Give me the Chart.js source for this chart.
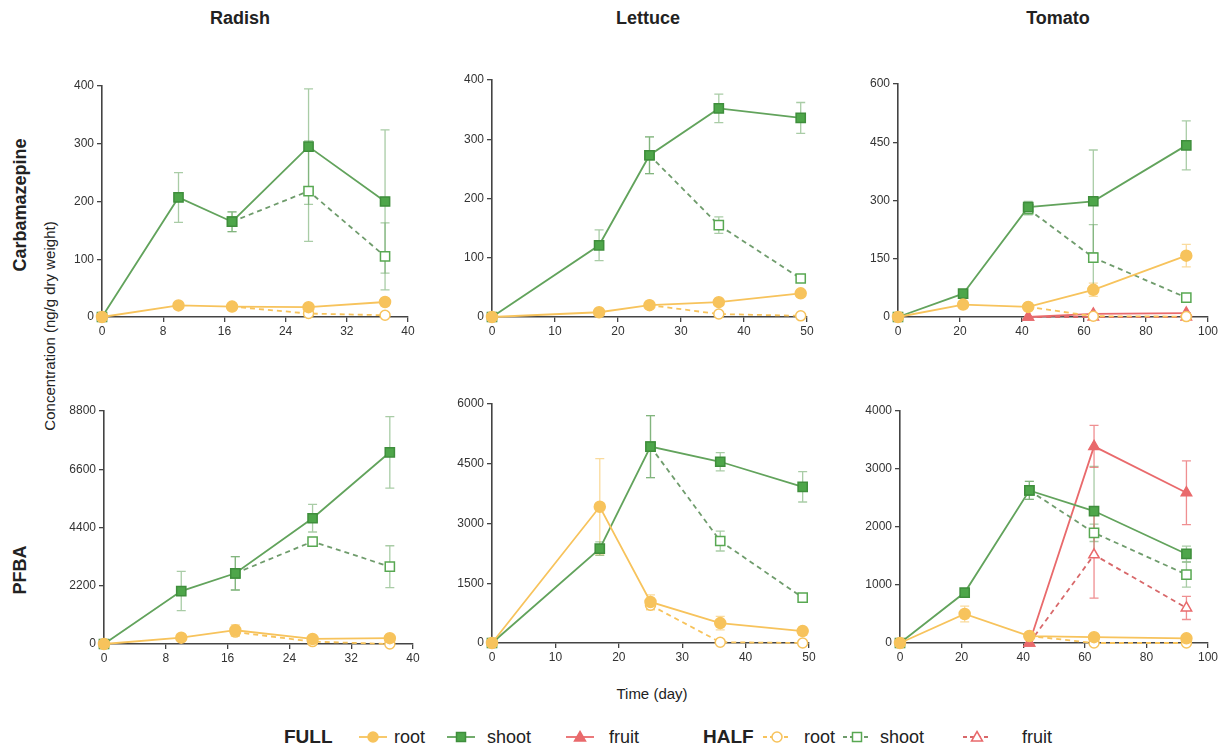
<!DOCTYPE html>
<html>
<head>
<meta charset="utf-8">
<script src="https://cdn.jsdelivr.net/npm/chart.js@4.4.1/dist/chart.umd.min.js"></script>
<style>
  body { margin: 0; width: 1225px; height: 751px; background: #fff; position: relative; overflow: hidden;
         font-family: "Liberation Sans", Arial, sans-serif; color: #222; }
  canvas { position: absolute; }
  .lbl { position: absolute; white-space: nowrap; transform: translate(-50%, -50%); }
  .bold { font-weight: bold; font-size: 18px; }
  .rot { transform: translate(-50%, -50%) rotate(-90deg); }
  .legend { position: absolute; top: 725px; left: 0; height: 24px; width: 1225px; }
  .legend span, .legend svg { position: absolute; top: 0; }
  .legend span { font-size: 18px; line-height: 24px; }
  .legend .head { font-weight: bold; font-size: 19px; }
</style>
</head>
<body>

<div class="lbl bold" style="left:240px; top:18px;">Radish</div>
<div class="lbl bold" style="left:648px; top:18px;">Lettuce</div>
<div class="lbl bold" style="left:1058px; top:18px;">Tomato</div>
<div class="lbl bold rot" style="left:20px; top:205px;">Carbamazepine</div>
<div class="lbl bold rot" style="left:20px; top:570px;">PFBA</div>
<div class="lbl rot" style="left:49px; top:326px; font-size:15px;">Concentration (ng/g dry weight)</div>
<div class="lbl" style="left:652px; top:693px; font-size:15px;">Time (day)</div>

<canvas id="c1"></canvas>
<canvas id="c2"></canvas>
<canvas id="c3"></canvas>
<canvas id="c4"></canvas>
<canvas id="c5"></canvas>
<canvas id="c6"></canvas>

<div class="legend" id="legend"></div>

<script>
// sampling days
const radishDays = [0, 10, 17, 27, 37];
const lettuceDays = [0, 17, 25, 36, 49];
const tomatoDays = [0, 21, 42, 63, 93];

// tick labels
const radishXTicks = [0, 8, 16, 24, 32, 40];
const lettuceXTicks = [0, 10, 20, 30, 40, 50];
const tomatoXTicks = [0, 20, 40, 60, 80, 100];
const radishCbzYTicks = [0, 100, 200, 300, 400];
const lettuceCbzYTicks = [0, 100, 200, 300, 400];
const tomatoCbzYTicks = [0, 150, 300, 450, 600];
const radishPfbaYTicks = [0, 2200, 4400, 6600, 8800];
const lettucePfbaYTicks = [0, 1500, 3000, 4500, 6000];
const tomatoPfbaYTicks = [0, 1000, 2000, 3000, 4000];

// Carbamazepine - radish
const radishCbzFullRoot = [0, 20, 18, 17, 26];
const radishCbzFullRootErr = [0, 2, 3, 3, 3];
const radishCbzFullShoot = [0, 207, 165, 295, 200];
const radishCbzFullShootErr = [0, 43, 17, 100, 124];
const radishCbzHalfRoot = [null, null, 18, 6, 3];
const radishCbzHalfRootErr = [0, 0, 3, 2, 2];
const radishCbzHalfShoot = [null, null, 165, 218, 105];
const radishCbzHalfShootErr = [0, 0, 17, 87, 58];

// Carbamazepine - lettuce
const lettuceCbzFullRoot = [0, 8, 20, 25, 40];
const lettuceCbzFullRootErr = [0, 1, 2, 3, 3];
const lettuceCbzFullShoot = [0, 121, 273, 352, 336];
const lettuceCbzFullShootErr = [0, 26, 31, 24, 26];
const lettuceCbzHalfRoot = [null, null, 20, 5, 2];
const lettuceCbzHalfRootErr = [0, 0, 2, 1, 1];
const lettuceCbzHalfShoot = [null, null, 273, 155, 65];
const lettuceCbzHalfShootErr = [0, 0, 31, 14, 5];

// Carbamazepine - tomato
const tomatoCbzFullRoot = [0, 32, 26, 70, 158];
const tomatoCbzFullRootErr = [0, 3, 3, 17, 29];
const tomatoCbzFullShoot = [0, 60, 283, 298, 442];
const tomatoCbzFullShootErr = [0, 5, 15, 132, 63];
const tomatoCbzFullFruit = [null, null, 0, 8, 10];
const tomatoCbzFullFruitErr = [0, 0, 0, 1, 1];
const tomatoCbzHalfRoot = [null, null, 26, 2, 1];
const tomatoCbzHalfRootErr = [0, 0, 3, 1, 1];
const tomatoCbzHalfShoot = [null, null, 278, 153, 50];
const tomatoCbzHalfShootErr = [0, 0, 15, 85, 5];
const tomatoCbzHalfFruit = [null, null, 0, 0, 0];
const tomatoCbzHalfFruitErr = [0, 0, 0, 0, 0];

// PFBA - radish
const radishPfbaFullRoot = [0, 240, 520, 190, 220];
const radishPfbaFullRootErr = [0, 80, 200, 60, 60];
const radishPfbaFullShoot = [0, 2000, 2670, 4750, 7240];
const radishPfbaFullShootErr = [0, 740, 630, 520, 1350];
const radishPfbaHalfRoot = [null, null, 450, 90, 0];
const radishPfbaHalfRootErr = [0, 0, 150, 40, 20];
const radishPfbaHalfShoot = [null, null, 2670, 3870, 2920];
const radishPfbaHalfShootErr = [0, 0, 630, 150, 790];

// PFBA - lettuce
const lettucePfbaFullRoot = [0, 3420, 1030, 500, 300];
const lettucePfbaFullRootErr = [0, 1210, 180, 170, 100];
const lettucePfbaFullShoot = [0, 2370, 4930, 4550, 3920];
const lettucePfbaFullShootErr = [0, 170, 780, 230, 380];
const lettucePfbaHalfRoot = [null, null, 950, 20, 0];
const lettucePfbaHalfRootErr = [0, 0, 120, 20, 10];
const lettucePfbaHalfShoot = [null, null, 4930, 2560, 1140];
const lettucePfbaHalfShootErr = [0, 0, 780, 250, 80];

// PFBA - tomato
const tomatoPfbaFullRoot = [0, 500, 120, 100, 80];
const tomatoPfbaFullRootErr = [0, 135, 30, 20, 20];
const tomatoPfbaFullShoot = [0, 870, 2630, 2275, 1535];
const tomatoPfbaFullShootErr = [0, 40, 155, 770, 135];
const tomatoPfbaFullFruit = [null, null, 0, 3390, 2590];
const tomatoPfbaFullFruitErr = [0, 0, 0, 363, 550];
const tomatoPfbaHalfRoot = [null, null, 120, 0, 0];
const tomatoPfbaHalfRootErr = [0, 0, 20, 0, 0];
const tomatoPfbaHalfShoot = [null, null, 2630, 1900, 1180];
const tomatoPfbaHalfShootErr = [0, 0, 155, 150, 215];
const tomatoPfbaHalfFruit = [null, null, 0, 1520, 605];
const tomatoPfbaHalfFruitErr = [0, 0, 0, 745, 200];

const ROOT = '#f7c35c', SHOOT = '#4ea64a', FRUIT = '#e96a6c';

const styles = {
  fullRoot:   { line: ROOT, fill: ROOT, edge: ROOT, shape: 'circle', r: 5.5, dash: [], err: 'rgba(247,195,92,0.6)', order: 1 },
  fullShoot:  { line: '#62a35c', fill: SHOOT, edge: '#3f8e3c', shape: 'rect', r: 6.5, dash: [], err: 'rgba(98,163,92,0.55)', order: 3 },
  fullFruit:  { line: FRUIT, fill: FRUIT, edge: FRUIT, shape: 'triangle', r: 6, dash: [], err: 'rgba(233,106,108,0.75)', order: 5 },
  halfRoot:   { line: ROOT, fill: '#fff', edge: ROOT, shape: 'circle', r: 5, dash: [5, 4], err: 'rgba(247,195,92,0.6)', order: 2 },
  halfShoot:  { line: '#6f9c6c', fill: '#fff', edge: '#58a852', shape: 'rect', r: 6.5, dash: [5, 4], err: 'rgba(98,163,92,0.55)', order: 4 },
  halfFruit:  { line: '#d8686a', fill: '#fff', edge: FRUIT, shape: 'triangle', r: 6, dash: [5, 4], err: 'rgba(233,106,108,0.75)', order: 6 }
};

// plot-area boxes in page pixels
const boxes = {
  c1: { L: 102, R: 408, T: 86, B: 317 },
  c2: { L: 492, R: 807, T: 80, B: 317 },
  c3: { L: 898, R: 1208, T: 84, B: 317 },
  c4: { L: 104, R: 413, T: 411, B: 644 },
  c5: { L: 492, R: 809, T: 404, B: 643 },
  c6: { L: 900, R: 1208, T: 411, B: 643 }
};

const errorBars = {
  id: 'errorBars',
  beforeDatasetsDraw(chart) {
    const ctx = chart.ctx;
    const ys = chart.scales.y, xs = chart.scales.x;
    chart.data.datasets.forEach(ds => {
      ctx.save();
      ctx.strokeStyle = ds.errColor;
      ctx.lineWidth = 1.3;
      ds.data.forEach(p => {
        if (!p.e) return;
        const x = xs.getPixelForValue(p.x);
        const top = ys.getPixelForValue(p.y + p.e);
        const bot = ys.getPixelForValue(Math.max(p.y - p.e, 0));
        ctx.beginPath();
        ctx.moveTo(x, top); ctx.lineTo(x, bot);
        ctx.moveTo(x - 4.5, top); ctx.lineTo(x + 4.5, top);
        ctx.moveTo(x - 4.5, bot); ctx.lineTo(x + 4.5, bot);
        ctx.stroke();
      });
      ctx.restore();
    });
  }
};

function makePanel(id, days, xTicks, yTicks, series) {
  const b = boxes[id];
  const padL = 50, padR = 20, padT = 12, padB = 28;
  const cv = document.getElementById(id);
  cv.width = b.R - b.L + padL + padR;
  cv.height = b.B - b.T + padT + padB;
  cv.style.left = (b.L - padL) + 'px';
  cv.style.top = (b.T - padT) + 'px';

  const datasets = series.map(([kind, vals, errs]) => {
    const s = styles[kind];
    return {
      data: days.map((d, i) => ({ x: d, y: vals[i], e: errs[i] })).filter(p => p.y !== null),
      borderColor: s.line,
      borderWidth: 1.8,
      borderDash: s.dash,
      pointStyle: s.shape,
      pointRadius: s.r,
      pointBackgroundColor: s.fill,
      pointBorderColor: s.edge,
      pointBorderWidth: 1.5,
      errColor: s.err,
      order: s.order,
      clip: false,
      tension: 0
    };
  });

  const axisColor = '#444';
  const tickFont = { family: '"Liberation Sans", Arial, sans-serif', size: 12 };

  new Chart(cv, {
    type: 'line',
    data: { datasets },
    options: {
      responsive: false,
      animation: false,
      devicePixelRatio: 1,
      layout: { padding: { left: 0, right: padR, top: padT, bottom: 0 } },
      plugins: { legend: { display: false }, tooltip: { enabled: false } },
      scales: {
        x: {
          type: 'linear',
          min: xTicks[0], max: xTicks[xTicks.length - 1],
          afterBuildTicks: sc => { sc.ticks = xTicks.map(v => ({ value: v })); },
          afterFit: sc => { sc.height = padB; },
          grid: { drawOnChartArea: false, drawTicks: true, tickLength: 5, color: axisColor, lineWidth: 1.3 },
          border: { display: true, color: axisColor, width: 1.6 },
          ticks: { color: '#333', font: tickFont, padding: 2, maxRotation: 0, callback: v => String(v) }
        },
        y: {
          type: 'linear',
          min: yTicks[0], max: yTicks[yTicks.length - 1],
          afterBuildTicks: sc => { sc.ticks = yTicks.map(v => ({ value: v })); },
          afterFit: sc => { sc.width = padL; },
          grid: { drawOnChartArea: false, drawTicks: true, tickLength: 5, color: axisColor, lineWidth: 1.3 },
          border: { display: true, color: axisColor, width: 1.6 },
          ticks: { color: '#333', font: tickFont, padding: 3, callback: v => String(v) }
        }
      }
    },
    plugins: [errorBars]
  });
}

makePanel('c1', radishDays, radishXTicks, radishCbzYTicks, [
  ['fullRoot', radishCbzFullRoot, radishCbzFullRootErr],
  ['fullShoot', radishCbzFullShoot, radishCbzFullShootErr],
  ['halfRoot', radishCbzHalfRoot, radishCbzHalfRootErr],
  ['halfShoot', radishCbzHalfShoot, radishCbzHalfShootErr]
]);
makePanel('c2', lettuceDays, lettuceXTicks, lettuceCbzYTicks, [
  ['fullRoot', lettuceCbzFullRoot, lettuceCbzFullRootErr],
  ['fullShoot', lettuceCbzFullShoot, lettuceCbzFullShootErr],
  ['halfRoot', lettuceCbzHalfRoot, lettuceCbzHalfRootErr],
  ['halfShoot', lettuceCbzHalfShoot, lettuceCbzHalfShootErr]
]);
makePanel('c3', tomatoDays, tomatoXTicks, tomatoCbzYTicks, [
  ['fullRoot', tomatoCbzFullRoot, tomatoCbzFullRootErr],
  ['fullShoot', tomatoCbzFullShoot, tomatoCbzFullShootErr],
  ['fullFruit', tomatoCbzFullFruit, tomatoCbzFullFruitErr],
  ['halfRoot', tomatoCbzHalfRoot, tomatoCbzHalfRootErr],
  ['halfShoot', tomatoCbzHalfShoot, tomatoCbzHalfShootErr],
  ['halfFruit', tomatoCbzHalfFruit, tomatoCbzHalfFruitErr]
]);
makePanel('c4', radishDays, radishXTicks, radishPfbaYTicks, [
  ['fullRoot', radishPfbaFullRoot, radishPfbaFullRootErr],
  ['fullShoot', radishPfbaFullShoot, radishPfbaFullShootErr],
  ['halfRoot', radishPfbaHalfRoot, radishPfbaHalfRootErr],
  ['halfShoot', radishPfbaHalfShoot, radishPfbaHalfShootErr]
]);
makePanel('c5', lettuceDays, lettuceXTicks, lettucePfbaYTicks, [
  ['fullRoot', lettucePfbaFullRoot, lettucePfbaFullRootErr],
  ['fullShoot', lettucePfbaFullShoot, lettucePfbaFullShootErr],
  ['halfRoot', lettucePfbaHalfRoot, lettucePfbaHalfRootErr],
  ['halfShoot', lettucePfbaHalfShoot, lettucePfbaHalfShootErr]
]);
makePanel('c6', tomatoDays, tomatoXTicks, tomatoPfbaYTicks, [
  ['fullRoot', tomatoPfbaFullRoot, tomatoPfbaFullRootErr],
  ['fullShoot', tomatoPfbaFullShoot, tomatoPfbaFullShootErr],
  ['fullFruit', tomatoPfbaFullFruit, tomatoPfbaFullFruitErr],
  ['halfRoot', tomatoPfbaHalfRoot, tomatoPfbaHalfRootErr],
  ['halfShoot', tomatoPfbaHalfShoot, tomatoPfbaHalfShootErr],
  ['halfFruit', tomatoPfbaHalfFruit, tomatoPfbaHalfFruitErr]
]);

// legend: swatches drawn as small svgs, text kept as text
function swatch(kind) {
  const s = styles[kind];
  const dash = s.dash.length ? ' stroke-dasharray="4 3"' : '';
  let mark;
  if (s.shape === 'circle') mark = `<circle cx="15" cy="12" r="5" fill="${s.fill}" stroke="${s.edge}" stroke-width="1.5"/>`;
  else if (s.shape === 'rect') mark = `<rect x="10.5" y="7.5" width="9" height="9" fill="${s.fill}" stroke="${s.edge}" stroke-width="1.5"/>`;
  else mark = `<polygon points="15,6.5 20.5,16 9.5,16" fill="${s.fill}" stroke="${s.edge}" stroke-width="1.5"/>`;
  return `<line x1="1" y1="12" x2="29" y2="12" stroke="${s.line}" stroke-width="1.8"${dash}/>${mark}`;
}
const legendItems = [
  ['head', 'FULL', 284], ['fullRoot', 'root', 358, 394], ['fullShoot', 'shoot', 446, 487],
  ['fullFruit', 'fruit', 565, 609], ['head', 'HALF', 703], ['halfRoot', 'root', 762, 804],
  ['halfShoot', 'shoot', 842, 880], ['halfFruit', 'fruit', 962, 1022]
];
const lg = document.getElementById('legend');
legendItems.forEach(([kind, text, x, tx]) => {
  if (kind === 'head') {
    lg.insertAdjacentHTML('beforeend', `<span class="head" style="left:${x}px">${text}</span>`);
  } else {
    lg.insertAdjacentHTML('beforeend', `<svg style="left:${x}px" width="30" height="24" viewBox="0 0 30 24">${swatch(kind)}</svg>`);
    lg.insertAdjacentHTML('beforeend', `<span style="left:${tx}px">${text}</span>`);
  }
});
</script>
</body>
</html>
